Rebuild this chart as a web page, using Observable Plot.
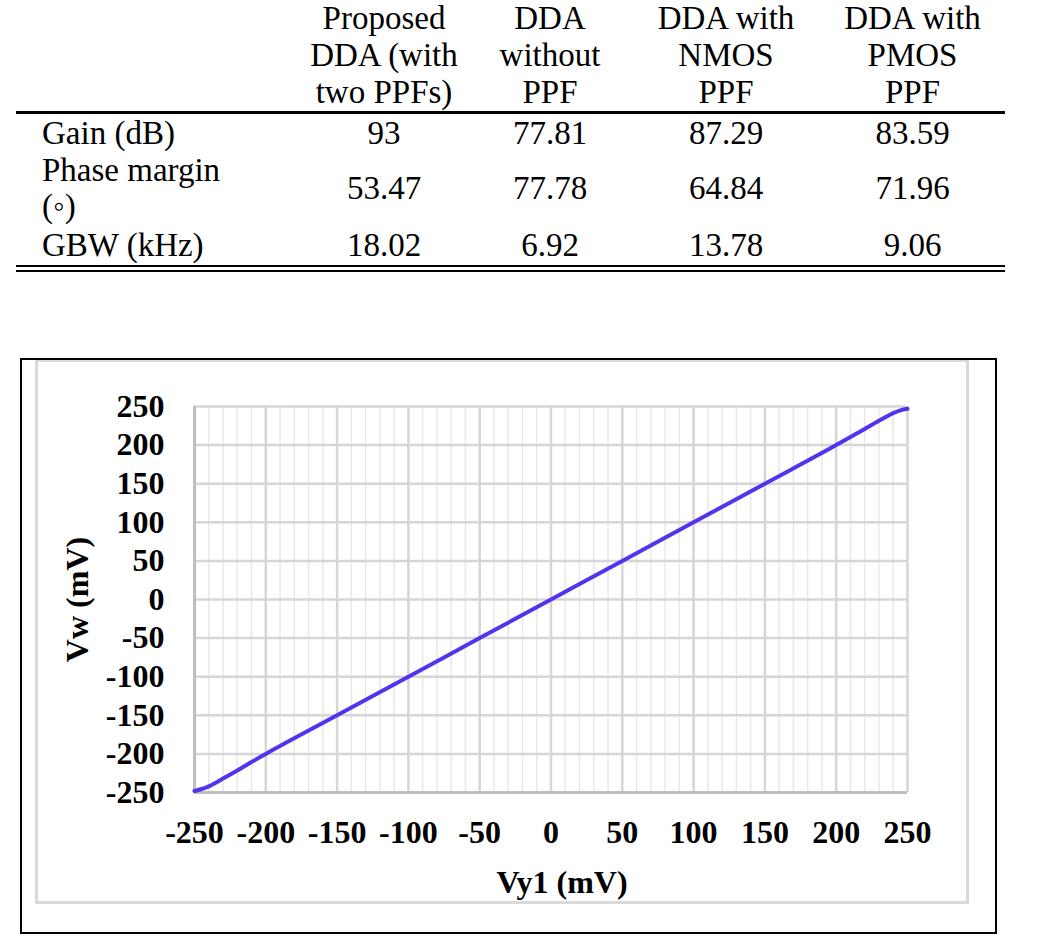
<!DOCTYPE html>
<html>
<head>
<meta charset="utf-8">
<script src="https://cdn.jsdelivr.net/npm/d3@7"></script>
<script src="https://cdn.jsdelivr.net/npm/@observablehq/plot@0.6"></script>
<style>
  html, body { margin: 0; padding: 0; background: #fff; }
  body { width: 1039px; height: 938px; position: relative; overflow: hidden;
         font-family: "Liberation Serif", "Times New Roman", serif; color: #000; }
  #tbl { position: absolute; left: 16px; top: 0; width: 989px; border-collapse: collapse;
         font-size: 33px; table-layout: fixed; }
  #tbl th, #tbl td { padding: 0; font-weight: normal; text-align: center; vertical-align: middle; }
  #tbl thead th { line-height: 37px; height: 111px; border-bottom: 3px solid #000; }
  #tbl td.lab { text-align: left; padding-left: 26px; }
  #tbl tbody td { line-height: 36px; }
  #tbl tr.r0 td { height: 38px; }
  #tbl tr.r1 td { height: 72px; }
  #tbl tr.r2 td { height: 41px; border-bottom: 7px double #000; }
  #frameGray { position: absolute; left: 35px; top: 359px; width: 934px; height: 545px;
               border: 3px solid #d9d9d9; box-sizing: border-box; }
  #frameBlack { position: absolute; left: 20px; top: 358px; width: 977px; height: 576px;
                border: 2px solid #000; box-sizing: border-box; pointer-events: none; }
  #chart { position: absolute; left: 21px; top: 359px; }
  #chart svg { display: block; }
</style>
</head>
<body>
<table id="tbl">
  <colgroup>
    <col style="width:284px"><col style="width:168px"><col style="width:164px"><col style="width:188px"><col style="width:185px">
  </colgroup>
  <thead><tr id="headRow"><th></th></tr></thead>
  <tbody id="tbody"></tbody>
</table>
<div id="frameGray"></div>
<div id="chart"></div>
<div id="frameBlack"></div>
<script>
// ---- Table data ----
const columnHeaders = [
  ["Proposed", "DDA (with", "two PPFs)"],
  ["DDA", "without", "PPF"],
  ["DDA with", "NMOS", "PPF"],
  ["DDA with", "PMOS", "PPF"]
];
const rowLabels = [["Gain (dB)"], ["Phase margin", "(\u25E6)"], ["GBW (kHz)"]];
const gainDb = ["93", "77.81", "87.29", "83.59"];
const phaseMargin = ["53.47", "77.78", "64.84", "71.96"];
const gbwKHz = ["18.02", "6.92", "13.78", "9.06"];

// ---- Chart data ----
const vy1 = [-250, -245, -240, -230, -220, -210, -200, -150, -100, -50, 0, 50, 100, 150, 200, 210, 220, 230, 240, 245, 250];
const vw  = [-248, -245.5, -242, -232, -221.5, -210.5, -200, -150, -100, -50, 0, 50, 100, 150, 200, 210.5, 221, 231.5, 241.5, 245, 247];
const xTicks = [-250, -200, -150, -100, -50, 0, 50, 100, 150, 200, 250];
const yTicks = [-250, -200, -150, -100, -50, 0, 50, 100, 150, 200, 250];
const xMinorTicks = d3.range(-250, 251, 10);
const xTitle = "Vy1 (mV)";
const yTitle = "Vw (mV)";

// ---- Build table ----
const headRow = document.getElementById("headRow");
columnHeaders.forEach(lines => {
  const th = document.createElement("th");
  th.innerHTML = lines.join("<br>");
  headRow.appendChild(th);
});
const rows = [gainDb, phaseMargin, gbwKHz];
const tbody = document.getElementById("tbody");
rows.forEach((vals, i) => {
  const tr = document.createElement("tr");
  tr.className = "r" + i;
  const lab = document.createElement("td");
  lab.className = "lab";
  lab.innerHTML = rowLabels[i].join("<br>");
  tr.appendChild(lab);
  vals.forEach(v => {
    const td = document.createElement("td");
    td.textContent = v;
    tr.appendChild(td);
  });
  tbody.appendChild(tr);
});

// ---- Build chart ----
const tickFmt = d => String(d); // plain hyphen-minus like the original
const points = vy1.map((x, i) => ({vy1: x, vw: vw[i]}));
const chart = Plot.plot({
  width: 975,
  height: 574,
  marginLeft: 173,
  marginRight: 89,
  marginTop: 47,
  marginBottom: 141,
  x: {domain: [-250, 250]},
  y: {domain: [-250, 250]},
  style: {fontFamily: "Liberation Serif, Times New Roman, serif", background: "transparent", overflow: "visible", color: "#000"},
  marks: [
    Plot.gridX(xMinorTicks, {stroke: "#e8e8e8", strokeOpacity: 1, strokeWidth: 1.5}),
    Plot.gridX(xTicks, {stroke: "#d6d6d6", strokeOpacity: 1, strokeWidth: 2.5}),
    Plot.gridY(yTicks, {stroke: "#d6d6d6", strokeOpacity: 1, strokeWidth: 2.5}),
    Plot.ruleX([xTicks[0]], {stroke: "#bfbfbf", strokeWidth: 3}),
    Plot.ruleY([yTicks[0]], {stroke: "#bfbfbf", strokeWidth: 3}),
    Plot.axisX(xTicks, {tickSize: 0, tickPadding: 28, fontSize: 32, fontWeight: "bold", label: null, tickFormat: tickFmt}),
    Plot.axisY(yTicks, {tickSize: 0, tickPadding: 30, fontSize: 32, fontWeight: "bold", label: null, tickFormat: tickFmt}),
    Plot.line(points, {x: "vy1", y: "vw", stroke: "#5533ee", strokeWidth: 4, curve: "monotone-x"}),
    Plot.text([xTitle], {text: d => d, frameAnchor: "bottom", textAnchor: "middle", lineAnchor: "middle", dx: 11, dy: 90, fontSize: 32, fontWeight: "bold", fill: "#000"}),
    Plot.text([yTitle], {text: d => d, frameAnchor: "left", textAnchor: "middle", lineAnchor: "middle", dx: -117, rotate: -90, fontSize: 32, fontWeight: "bold", fill: "#000"})
  ]
});
document.getElementById("chart").appendChild(chart);
</script>
</body>
</html>
